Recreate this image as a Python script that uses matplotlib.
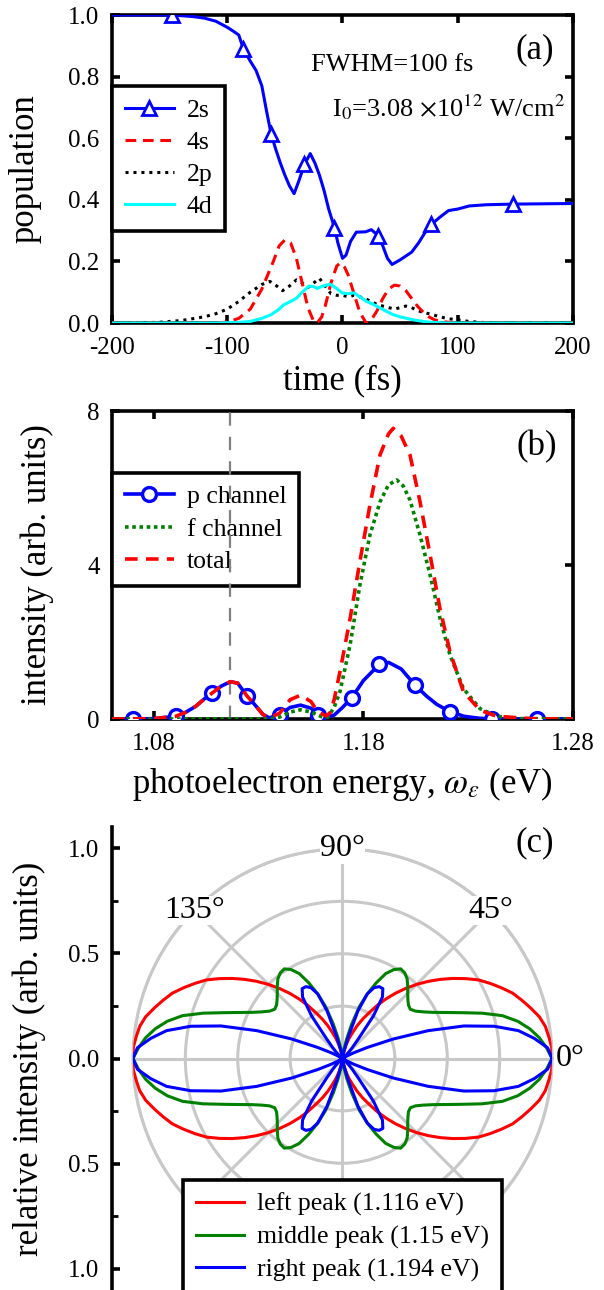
import numpy as np
import matplotlib
matplotlib.use('Agg')
import matplotlib.pyplot as plt

plt.rcParams['font.family'] = ['Liberation Serif', 'DejaVu Serif']
plt.rcParams['mathtext.fontset'] = 'stix'

# ---------------- panel (a): populations vs time ----------------
t_2s = [-200, -170, -148, -130, -120, -110, -100, -95, -90, -86, -80, -75, -70, -66, -62, -58,
        -54, -50, -46, -42, -38, -33, -28, -24, -20, -16, -12, -7, -4, 0, 3, 7, 12, 20, 25,
        31, 35, 39, 43, 50, 60, 66, 71, 77, 85, 92, 100, 110, 125, 148, 200]
pop_2s = [1.0, 1.0, 1.0, 0.995, 0.99, 0.98, 0.96, 0.948, 0.935, 0.89, 0.85, 0.82, 0.77, 0.69,
          0.615, 0.565, 0.52, 0.48, 0.445, 0.42, 0.46, 0.515, 0.55, 0.52, 0.48, 0.43, 0.37,
          0.31, 0.26, 0.21, 0.22, 0.265, 0.295, 0.296, 0.303, 0.284, 0.25, 0.21, 0.19, 0.205,
          0.23, 0.26, 0.29, 0.32, 0.345, 0.365, 0.37, 0.38, 0.384, 0.386, 0.388]
t_2s_marks = [-148, -86, -62, -33, -7, 31, 77, 148]

t_4s = [-200, -110, -100, -90, -80, -70, -60, -55, -50, -45, -40, -35, -30, -25, -22, -18, -15,
        -10, -5, -2, 2, 5, 10, 15, 20, 22, 25, 30, 35, 40, 45, 50, 55, 60, 65, 70, 75, 80, 90,
        100, 200]
pop_4s = [0, 0, 0.003, 0.015, 0.045, 0.11, 0.2, 0.25, 0.27, 0.26, 0.21, 0.13, 0.05, 0.005, 0,
          0.02, 0.055, 0.13, 0.185, 0.195, 0.18, 0.155, 0.095, 0.035, 0.003, 0, 0.01, 0.04,
          0.08, 0.11, 0.123, 0.12, 0.105, 0.08, 0.055, 0.035, 0.02, 0.01, 0.003, 0, 0]

t_2p = [-200, -160, -140, -120, -110, -100, -90, -80, -70, -63, -57, -52, -46, -40, -35, -30,
        -25, -20, -15, -10, -5, 0, 5, 10, 15, 20, 25, 30, 35, 40, 45, 50, 55, 60, 65, 70, 80,
        90, 100, 110, 120, 140, 200]
pop_2p = [0, 0.002, 0.008, 0.02, 0.03, 0.045, 0.07, 0.1, 0.125, 0.135, 0.12, 0.105, 0.12,
          0.14, 0.13, 0.115, 0.13, 0.145, 0.12, 0.095, 0.09, 0.09, 0.085, 0.09, 0.085, 0.078,
          0.07, 0.06, 0.055, 0.05, 0.045, 0.05, 0.055, 0.05, 0.04, 0.035, 0.025, 0.015, 0.01,
          0.005, 0.002, 0, 0]

t_4d = [-200, -110, -100, -90, -80, -70, -62, -56, -51, -45, -40, -35, -29, -25, -22, -17, -11,
        -6, 0, 5, 10, 15, 21, 27, 33, 38, 44, 50, 58, 65, 72, 79, 90, 100, 200]
pop_4d = [0, 0, 0.001, 0.002, 0.005, 0.015, 0.027, 0.042, 0.059, 0.07, 0.08, 0.1, 0.12, 0.118,
          0.112, 0.12, 0.126, 0.115, 0.097, 0.095, 0.098, 0.085, 0.07, 0.06, 0.048, 0.038,
          0.027, 0.02, 0.013, 0.008, 0.004, 0.002, 0, 0, 0]

# ---------------- panel (b): photoelectron spectrum ----------------
e_p = [1.060, 1.070, 1.080, 1.0904, 1.095, 1.100, 1.104, 1.1077, 1.112, 1.1165, 1.120, 1.1244,
       1.128, 1.132, 1.135, 1.140, 1.145, 1.150, 1.155, 1.1583, 1.162, 1.166, 1.170, 1.1744,
       1.180, 1.1876, 1.192, 1.198, 1.2046, 1.210, 1.215, 1.2213, 1.228, 1.235, 1.2412, 1.250,
       1.2627, 1.280]
int_p = [0, 0, 0.01, 0.07, 0.17, 0.33, 0.52, 0.67, 0.85, 0.97, 0.93, 0.6, 0.38, 0.12, 0.03,
         0.11, 0.3, 0.36, 0.28, 0.11, 0.04, 0.1, 0.3, 0.55, 1.0, 1.42, 1.47, 1.3, 0.88, 0.6,
         0.38, 0.19, 0.07, 0.02, 0.0, 0, 0, 0]
e_p_marks = [1.070, 1.0904, 1.1077, 1.1244, 1.140, 1.1583, 1.1744, 1.1876, 1.2046, 1.2213,
             1.2412, 1.2627]

e_f = [1.060, 1.135, 1.140, 1.145, 1.150, 1.155, 1.160, 1.163, 1.166, 1.1688, 1.1736, 1.1783,
       1.1831, 1.1879, 1.1919, 1.1959, 1.199, 1.2022, 1.207, 1.2118, 1.2165, 1.2213, 1.2277,
       1.2356, 1.2436, 1.255, 1.280]
int_f = [0, 0, 0.05, 0.18, 0.24, 0.18, 0.06, 0.05, 0.3, 0.71, 1.92, 3.48, 4.78, 5.64, 6.08,
         6.21, 6.05, 5.69, 4.78, 3.74, 2.62, 1.66, 0.79, 0.27, 0.07, 0.01, 0]

e_tot = [1.060, 1.080, 1.0904, 1.095, 1.100, 1.104, 1.1077, 1.112, 1.1165, 1.120, 1.1244, 1.128,
         1.132, 1.135, 1.140, 1.145, 1.150, 1.155, 1.158, 1.162, 1.164, 1.166, 1.1688, 1.1736,
         1.1783, 1.1831, 1.1879, 1.1919, 1.1942, 1.198, 1.2022, 1.207, 1.2118, 1.2165, 1.2213,
         1.2277, 1.2356, 1.2436, 1.260, 1.280]
int_tot = [0, 0.01, 0.07, 0.17, 0.33, 0.52, 0.67, 0.85, 0.97, 0.93, 0.6, 0.38, 0.12, 0.03, 0.15,
           0.5, 0.62, 0.45, 0.2, 0.08, 0.15, 0.5, 1.23, 2.6, 4.09, 5.56, 6.86, 7.4, 7.55, 7.35,
           6.86, 5.64, 4.26, 2.87, 1.75, 0.71, 0.23, 0.07, 0.01, 0]
e_left_peak = 1.1165

# ---------------- panel (c): angular distributions (0..90 deg, mirrored) ----------------
ang_deg = [0, 3, 6, 9, 12, 15, 18, 21, 24, 27, 30, 33, 36, 39, 42, 45, 48, 51, 54, 57, 60, 63,
           66, 69, 72, 75, 78, 81, 84, 87, 90]
r_left = [1.0, 1.0, 0.99, 0.98, 0.96, 0.93, 0.9, 0.87, 0.83, 0.79, 0.75, 0.7, 0.65, 0.6, 0.55,
          0.5, 0.45, 0.4, 0.35, 0.3, 0.25, 0.21, 0.17, 0.13, 0.1, 0.07, 0.04, 0.02, 0.01, 0.0, 0.0]
r_mid = [1.0, 0.975, 0.945, 0.905, 0.855, 0.79, 0.7, 0.61, 0.54, 0.485, 0.445, 0.415, 0.40,
         0.405, 0.42, 0.44, 0.465, 0.49, 0.505, 0.51, 0.49, 0.455, 0.395, 0.33, 0.26, 0.17,
         0.095, 0.045, 0.018, 0.005, 0.0]
r_right = [1.0, 0.98, 0.92, 0.85, 0.74, 0.6, 0.43, 0.26, 0.13, 0.06, 0.02, 0.005, 0.0, 0.005,
           0.02, 0.04, 0.07, 0.12, 0.25, 0.35, 0.385, 0.385, 0.37, 0.33, 0.24, 0.11, 0.04,
           0.02, 0.008, 0.002, 0.0]
labels_c = ['left peak (1.116 eV)', 'middle peak (1.15 eV)', 'right peak (1.194 eV)']
colors_c = ['#ff0000', '#008000', '#0000ff']

W, H = 604, 1290
TICK_FS, LAB_FS, LEG_FS, NOTE_FS = 18, 25, 18.5, 19

fig = plt.figure(figsize=(W / 100, H / 100), dpi=100)

def px_axes(x0, y0, x1, y1, **kw):
    return fig.add_axes([x0 / W, 1 - y1 / H, (x1 - x0) / W, (y1 - y0) / H], **kw)

def style_box(ax):
    for sp in ax.spines.values():
        sp.set_linewidth(2.6)
    ax.tick_params(direction='in', length=6, width=2.6, labelsize=TICK_FS,
                   top=True, right=True)
    ax.tick_params(axis='x', pad=10)
    ax.tick_params(axis='y', pad=9)

def box_legend(ax, **kw):
    leg = ax.legend(borderaxespad=0, fontsize=LEG_FS, handlelength=1.9, handletextpad=0.5,
                    labelspacing=0.36, borderpad=0.5, fancybox=False, framealpha=1,
                    edgecolor='black', **kw)
    leg.get_frame().set_linewidth(2.6)
    return leg

# ---- (a)
ax = px_axes(112, 15, 573, 323)
ax.plot(t_2s, pop_2s, color='#0000ff', lw=2.2, marker='^', ms=10, mfc='white', mew=2,
        markevery=[t_2s.index(t) for t in t_2s_marks], label='2s', zorder=5)
ax.plot(t_4s, pop_4s, color='#ff0000', lw=2.2, ls=(0, (3.5, 2.2)), label='4s', zorder=4)
ax.plot(t_2p, pop_2p, color='black', lw=2.2, ls=(0, (1, 1.6)), label='2p', zorder=3)
ax.plot(t_4d, pop_4d, color='#00ffff', lw=2.2, label='4d', zorder=4)
ax.set_xlim(-200, 200)
ax.set_ylim(0, 1.0)
ax.set_xticks([-200, -100, 0, 100, 200])
ax.set_xticklabels(['-200', '-100', '0', '100', '200'])
ax.set_yticks([0, 0.2, 0.4, 0.6, 0.8, 1.0])
ax.set_yticklabels(['0.0', '0.2', '0.4', '0.6', '0.8', '1.0'])
style_box(ax)
ax.set_xlabel('time (fs)', fontsize=LAB_FS)
ax.set_ylabel('population', fontsize=LAB_FS)
ax.xaxis.set_label_coords(0.5, -0.135)
ax.yaxis.set_label_coords(-0.152, 0.5)
ax.text(0.607, 0.838, 'FWHM=100 fs', transform=ax.transAxes, ha='center', va='center',
        fontsize=NOTE_FS)
ax.text(0.73, 0.70, r'I$_0$=3.08 $\times$10$^{12}$ W/cm$^2$', transform=ax.transAxes,
        ha='center', va='center', fontsize=NOTE_FS)
ax.text(0.918, 0.886, '(a)', transform=ax.transAxes, ha='center', va='center', fontsize=LAB_FS)
box_legend(ax, loc='upper left', bbox_to_anchor=(0, 0.77))

# ---- (b)
ax = px_axes(112, 411, 573, 719)
ax.axvline(e_left_peak, color='#808080', lw=1.6, ls=(0, (6, 5)), zorder=5.5)
ax.plot(e_p, int_p, color='#0000ff', lw=2.6, marker='o', ms=10, mfc='white', mew=2.4,
        markevery=[e_p.index(e) for e in e_p_marks], label='p channel', zorder=6)
ax.plot(e_f, int_f, color='#008000', lw=2.6, ls=(0, (1, 1)), dash_capstyle='butt',
        label='f channel', zorder=7)
ax.plot(e_tot, int_tot, color='#ff0000', lw=2.6, ls=(0, (3.5, 2.3)), label='total',
        zorder=8)
ax.set_xlim(1.06, 1.28)
ax.set_ylim(0, 8)
ax.set_xticks([1.08, 1.18, 1.28])
ax.set_xticklabels(['1.08', '1.18', '1.28'])
ax.set_yticks([0, 4, 8])
style_box(ax)
ax.set_xlabel(r'photoelectron energy, $\omega_\varepsilon$ (eV)', fontsize=LAB_FS)
ax.set_ylabel('intensity (arb. units)', fontsize=LAB_FS)
ax.xaxis.set_label_coords(0.5, -0.15)
ax.yaxis.set_label_coords(-0.126, 0.5)
ax.text(0.922, 0.883, '(b)', transform=ax.transAxes, ha='center', va='center', fontsize=LAB_FS)
box_legend(ax, loc='upper left', bbox_to_anchor=(0, 0.80))

# ---- (c)
axc = px_axes(112, 827, 573, 1290)
axc.set_xlim(-1.1, 1.1)
axc.set_ylim(-1.1, 1.1)
for side in ['top', 'right', 'bottom']:
    axc.spines[side].set_visible(False)
axc.spines['left'].set_linewidth(2.6)
axc.set_xticks([])
axc.set_yticks([-1.0, -0.5, 0.0, 0.5, 1.0])
axc.set_yticklabels(['1.0', '0.5', '0.0', '0.5', '1.0'])
axc.set_yticks([-0.75, -0.25, 0.25, 0.75], minor=True)
axc.tick_params(axis='y', which='major', direction='in', length=6, width=2.6,
                labelsize=TICK_FS, pad=9)
axc.tick_params(axis='y', which='minor', direction='in', length=4, width=2)
axc.set_ylabel('relative intensity (arb. units)', fontsize=LAB_FS)
axc.yaxis.set_label_coords(-0.143, 0.5)
axc.text(0.918, 0.965, '(c)', transform=axc.transAxes, ha='center', va='center',
         fontsize=LAB_FS)

# polar axes placed exactly on the unit circle of the cartesian frame
p0 = axc.transData.transform((-1.0, -1.0))
p1 = axc.transData.transform((1.0, 1.0))
axp = fig.add_axes([p0[0] / W, p0[1] / H, (p1[0] - p0[0]) / W, (p1[1] - p0[1]) / H],
                   projection='polar')
axp.set_facecolor('none')
axp.set_rlim(0, 1.0)
axp.set_rticks([0.25, 0.5, 0.75, 1.0])
axp.set_yticklabels([])
axp.set_thetagrids(range(0, 360, 45), labels=[''] * 8)
axp.tick_params(length=0)
axp.grid(True, color='#c8c8c8', lw=2.2)
axp.spines['polar'].set_color('#c8c8c8')
axp.spines['polar'].set_linewidth(2.2)
axp.set_axisbelow(True)

ang = np.array(ang_deg, dtype=float)
theta_full = np.deg2rad(np.concatenate([ang, 180 - ang[::-1], 180 + ang, 360 - ang[::-1]]))
for r, col, lab in zip([r_left, r_mid, r_right], colors_c, labels_c):
    r = np.array(r)
    r_full = np.concatenate([r, r[::-1], r, r[::-1]])
    axp.plot(theta_full, r_full, color=col, lw=2.2, label=lab, zorder=3)

box = dict(facecolor='white', edgecolor='none', pad=0.3)
for a_deg, txt in [(90, '90°'), (45, '45°'), (135, '135°')]:
    axp.text(np.deg2rad(a_deg), 1.0, txt, ha='center', va='center', fontsize=23, bbox=box,
             zorder=6)
axp.text(0, 1.02, '0°', ha='left', va='center', fontsize=23, zorder=6)

leg = box_legend(axp, loc='lower center', bbox_to_anchor=(0.5, -0.01),
                 bbox_transform=axc.transAxes)
leg.set_zorder(10)

fig.savefig('out.png', dpi=100)
